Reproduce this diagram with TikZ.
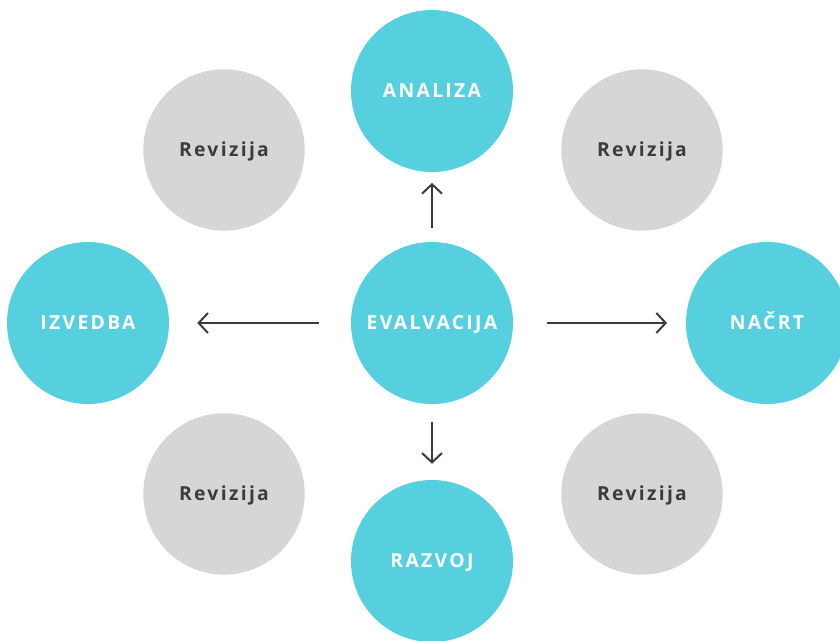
\documentclass[tikz,border=0pt]{standalone}
\usepackage{fontspec}
\setmainfont{Open Sans}
\newfontfamily\spaced[LetterSpace=12]{Open Sans}
\usepackage{tikz}
\usetikzlibrary{arrows.meta, calc}
\definecolor{phaseteal}{RGB}{86, 207, 223}
\definecolor{revgray}{RGB}{213, 214, 216}
\definecolor{inkgray}{RGB}{60, 60, 60}

\begin{document}
\begin{tikzpicture}[x=0.75pt, y=-0.75pt,
    phase/.style={circle, fill=phaseteal, minimum size=121.5pt, inner sep=0pt,
        text height=10.4pt, text depth=0pt,
        text=white, font=\spaced\bfseries\fontsize{14.5}{17}\selectfont},
    rev/.style={circle, fill=revgray, minimum size=121pt, inner sep=0pt,
        text height=10.4pt, text depth=0pt,
        text=inkgray, font=\spaced\bfseries\fontsize{14.5}{17}\selectfont},
    flow/.style={-{Straight Barb[length=7pt, width=15pt, line width=1.5pt]},
        line width=1.5pt, draw=inkgray}
]
\useasboundingbox (0,0) rectangle (840,641);
\clip (0,0) rectangle (840,641);

% outer phases
\node[phase] (analiza) at (432,91) {ANALIZA};
\node[phase] (izvedba) at (88,323) {IZVEDBA};
\node[phase] (nacrt) at (767,323) {NAČRT};
\node[phase] (razvoj) at (432,561) {RAZVOJ};
\node[phase] (evalvacija) at (432,323) {EVALVACIJA};

% revisions
\node[rev] (rev1) at (224,150) {Revizija};
\node[rev] (rev2) at (642,150) {Revizija};
\node[rev] (rev3) at (224,494) {Revizija};
\node[rev] (rev4) at (642,494) {Revizija};

\draw[flow, shorten <=10.5pt, shorten >=8pt] (evalvacija) -- (analiza);
\draw[flow, shorten <=24pt, shorten >=21pt] (evalvacija) -- (izvedba);
\draw[flow, shorten <=25pt, shorten >=14pt] (evalvacija) -- (nacrt);
\draw[flow, shorten <=13.5pt, shorten >=12pt] (evalvacija) -- (razvoj);
\end{tikzpicture}
\end{document}
